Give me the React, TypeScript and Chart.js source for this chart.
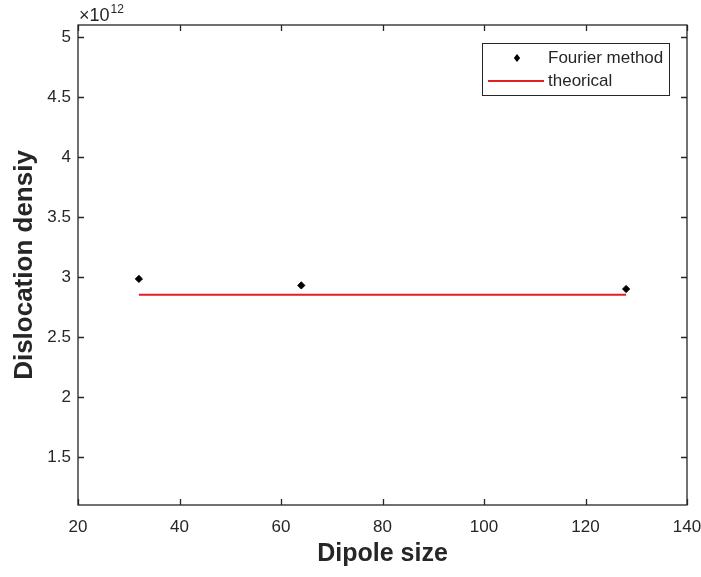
import React, { useEffect, useRef } from "react";
import { Chart, registerables } from "chart.js";

Chart.register(...registerables);

const dipoleSizes = [32, 64, 128];
const fourierDensity = [2.984, 2.93, 2.9]; // ×10^12
const theoryX = [32, 128];
const theoryDensity = [2.853, 2.853]; // ×10^12
const xTicks = [20, 40, 60, 80, 100, 120, 140];
const yTicks = [1.5, 2, 2.5, 3, 3.5, 4, 4.5, 5];
const exponentLabel = "12";
const seriesLabels = ["Fourier method", "theorical"];
const xTitle = "Dipole size";
const yTitle = "Dislocation densiy";

const AX = "#262626";
const FONT = "'Liberation Sans', Arial, sans-serif";

const matlabPlugin = {
  id: "matlabDecor",
  afterDraw(chart: any) {
    const { ctx, chartArea: a } = chart;
    const xs = chart.scales.x;
    const ys = chart.scales.y;
    ctx.save();
    ctx.strokeStyle = AX;
    ctx.lineWidth = 1.3;
    ctx.strokeRect(a.left, a.top, a.right - a.left, a.bottom - a.top);
    const tl = 6;
    ctx.beginPath();
    for (const v of xTicks) {
      const px = Math.round(xs.getPixelForValue(v)) + 0.5;
      ctx.moveTo(px, a.bottom);
      ctx.lineTo(px, a.bottom - tl);
      ctx.moveTo(px, a.top);
      ctx.lineTo(px, a.top + tl);
    }
    for (const v of yTicks) {
      const py = Math.round(ys.getPixelForValue(v)) + 0.5;
      ctx.moveTo(a.left, py);
      ctx.lineTo(a.left + tl, py);
      ctx.moveTo(a.right, py);
      ctx.lineTo(a.right - tl, py);
    }
    ctx.stroke();

    // exponent
    ctx.fillStyle = AX;
    ctx.textBaseline = "alphabetic";
    ctx.textAlign = "left";
    ctx.font = `18px ${FONT}`;
    ctx.fillText("\u00d710", a.left + 1, a.top - 4);
    const w = ctx.measureText("\u00d710").width;
    ctx.font = `12px ${FONT}`;
    ctx.fillText(exponentLabel, a.left + 2 + w, a.top - 12);

    // legend
    const lx = 482, ly = 43, lw = 187, lh = 52;
    ctx.fillStyle = "#ffffff";
    ctx.fillRect(lx, ly, lw, lh);
    ctx.strokeStyle = AX;
    ctx.lineWidth = 1;
    ctx.strokeRect(lx + 0.5, ly + 0.5, lw, lh);
    const ds = chart.data.datasets;
    const r1 = 58, r2 = 81;
    ctx.fillStyle = ds[0].pointBackgroundColor;
    const mx = 517, s = 4;
    ctx.beginPath();
    ctx.moveTo(mx, r1 - s);
    ctx.lineTo(mx + s * 0.8, r1);
    ctx.lineTo(mx, r1 + s);
    ctx.lineTo(mx - s * 0.8, r1);
    ctx.closePath();
    ctx.fill();
    ctx.strokeStyle = ds[1].borderColor;
    ctx.lineWidth = 2;
    ctx.beginPath();
    ctx.moveTo(488, r2);
    ctx.lineTo(544, r2);
    ctx.stroke();
    ctx.fillStyle = AX;
    ctx.font = `17px ${FONT}`;
    ctx.textBaseline = "middle";
    ctx.fillText(ds[0].label, 548, r1);
    ctx.fillText(ds[1].label, 548, r2);
    ctx.restore();
  },
};

export default function App() {
  const ref = useRef<HTMLCanvasElement>(null);
  useEffect(() => {
    document.body.style.margin = "0";
    const chart = new Chart(ref.current!, {
      type: "scatter",
      data: {
        datasets: [
          {
            label: seriesLabels[0],
            data: dipoleSizes.map((x, i) => ({ x, y: fourierDensity[i] })),
            pointStyle: "rectRot",
            pointRadius: 3.6,
            pointBackgroundColor: "#000000",
            pointBorderColor: "#000000",
            showLine: false,
          },
          {
            label: seriesLabels[1],
            data: theoryX.map((x, i) => ({ x, y: theoryDensity[i] })),
            showLine: true,
            borderColor: "#e02020",
            borderWidth: 2,
            pointRadius: 0,
            fill: false,
          },
        ],
      },
      options: {
        responsive: false,
        animation: false,
        layout: { padding: { top: 25, right: 14, left: 0, bottom: 0 } },
        plugins: { legend: { display: false }, tooltip: { enabled: false } },
        scales: {
          x: {
            type: "linear",
            min: 20,
            max: 140,
            afterBuildTicks: (s: any) => {
              s.ticks = xTicks.map((v) => ({ value: v }));
            },
            afterFit: (s: any) => {
              s.height = 72;
              s.paddingLeft = 0;
              s.paddingRight = 0;
            },
            grid: { display: false, drawTicks: false },
            border: { display: false },
            ticks: {
              color: AX,
              font: { family: FONT, size: 17 },
              padding: 12,
              maxRotation: 0,
              autoSkip: false,
            },
            title: {
              display: true,
              text: xTitle,
              color: AX,
              font: { family: FONT, size: 25, weight: "bold" },
              padding: { top: 0, bottom: 8 },
            },
          },
          y: {
            type: "linear",
            min: 1.1,
            max: 5.1,
            afterBuildTicks: (s: any) => {
              s.ticks = yTicks.map((v) => ({ value: v }));
            },
            afterFit: (s: any) => {
              s.width = 78;
              s.paddingTop = 0;
              s.paddingBottom = 0;
            },
            grid: { display: false, drawTicks: false },
            border: { display: false },
            ticks: {
              color: AX,
              font: { family: FONT, size: 17 },
              padding: 7,
              autoSkip: false,
              callback: (v: any) => String(v),
            },
            title: {
              display: true,
              text: yTitle,
              color: AX,
              font: { family: FONT, size: 26, weight: "bold" },
              padding: { top: 9, bottom: 0 },
            },
          },
        },
      },
      plugins: [matlabPlugin],
    } as any);
    return () => chart.destroy();
  }, []);
  return <canvas ref={ref} width={701} height={577} style={{ display: "block" }} />;
}
